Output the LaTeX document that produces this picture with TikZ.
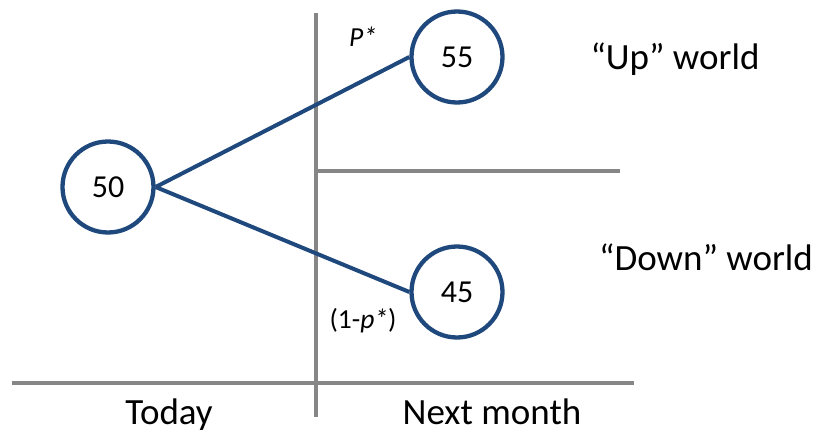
\documentclass[tikz,border=0pt]{standalone}
\usepackage{fontspec}
\setmainfont{Carlito}
\definecolor{nodeblue}{RGB}{31,73,125}
\definecolor{axisgray}{RGB}{134,134,134}
\begin{document}
\begin{tikzpicture}[x=1pt,y=-1pt,
  state/.style={circle,draw=nodeblue,line width=4.3pt,minimum size=91pt,inner sep=0pt,fill=white,font=\fontsize{32}{36}\selectfont},
  branch/.style={draw=nodeblue,line width=4pt},
  axis/.style={draw=axisgray,line width=4.5pt},
  lbl/.style={anchor=base,inner sep=0pt,font=\fontsize{37}{42}\selectfont},
  prob/.style={anchor=base,inner sep=0pt,font=\fontsize{27.5}{32}\selectfont}]
\useasboundingbox (0,0) rectangle (815,434);
% axes
\coordinate (vtop) at (316,13);
\coordinate (vbot) at (316,417);
\coordinate (mleft) at (316,171);
\coordinate (mright) at (620,171);
\coordinate (bleft) at (12,383);
\coordinate (bright) at (634,383);
\draw[axis] (vtop) -- (vbot);
\draw[axis] (mleft) -- (mright);
\draw[axis] (bleft) -- (bright);
% nodes
\node[state] (today) at (108,187) {50};
\node[state] (up) at (457,57) {55};
\node[state] (down) at (457,292) {45};
\draw[branch] (today.east) -- (up.west);
\draw[branch] (today.east) -- (down.west);
% labels
\node[prob] (pstar) at (363,46) {\textit{P*}};
\node[prob] (qstar) at (363,328) {(1-\textit{p*})};
\node[lbl] (upw) at (675,69) {“Up” world};
\node[lbl] (downw) at (706,270) {“Down” world};
\node[lbl] (tday) at (169,424) {Today};
\node[lbl] (nmonth) at (492,424) {Next month};
\end{tikzpicture}
\end{document}
